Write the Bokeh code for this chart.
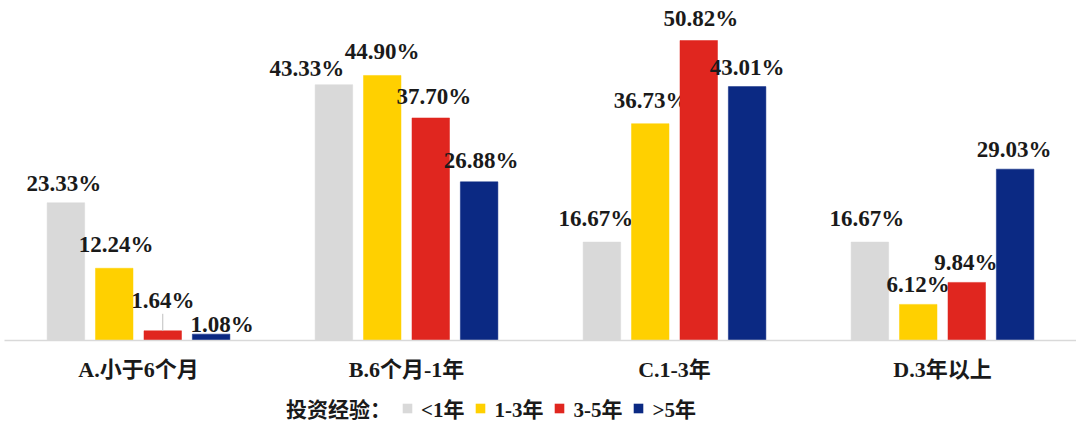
from bokeh.plotting import figure
from bokeh.layouts import column
from bokeh.models import ColumnDataSource, FactorRange, Range1d, Legend, LegendItem
from bokeh.transform import dodge
from bokeh.core.properties import value
from bokeh.embed import file_html
from bokeh.resources import INLINE

# ---- data ----
categories = ["A.小于6个月", "B.6个月-1年", "C.1-3年", "D.3年以上"]
series_names = ["<1年", "1-3年", "3-5年", ">5年"]
lt1 = [23.33, 43.33, 16.67, 16.67]
y1_3 = [12.24, 44.90, 36.73, 6.12]
y3_5 = [1.64, 37.70, 50.82, 9.84]
gt5 = [1.08, 26.88, 43.01, 29.03]
legend_title = "投资经验："

# ---- style ----
colors = ["#D9D9D9", "#FFD000", "#E0261F", "#0B2983"]
offsets = [-0.271, -0.0905, 0.0905, 0.271]
bar_width = 0.14
# label nudges (screen px) per series, per category
label_dx = [[-2, -27, -6, -3], [2, 0, 1, 0], [0, 3, 2, -1], [11, 2, 0, -1]]
label_dy = [[-19, -16, -24, -24], [-24, -24, -23, -20], [-30, -21, -22, -20], [-10, -21, -19, -20]]
FONT = "Liberation Serif, Noto Sans CJK SC"

W = 1076
H1 = 390
frame_h = 340
ymax = 57.6

p = figure(width=W, height=H1, x_range=FactorRange(*categories), y_range=Range1d(0, ymax),
           output_backend="svg", toolbar_location=None, y_axis_location=None,
           min_border_top=0, min_border_left=4, min_border_right=0, min_border_bottom=H1 - frame_h)
p.outline_line_color = None
p.xgrid.visible = False
p.ygrid.visible = False
p.background_fill_color = "white"

all_series = [lt1, y1_3, y3_5, gt5]
for i, vals in enumerate(all_series):
    src = ColumnDataSource(dict(
        cat=categories, val=vals,
        txt=["%.2f%%" % v for v in vals],
        dx=label_dx[i], dy=label_dy[i],
    ))
    p.vbar(x=dodge("cat", offsets[i], range=p.x_range), top="val", width=bar_width,
           source=src, fill_color=colors[i], line_color=colors[i], line_width=0.5)
    p.text(x=dodge("cat", offsets[i], range=p.x_range), y="val", text="txt", source=src,
           x_offset="dx", y_offset="dy", text_align="center", text_baseline="middle",
           text_font=value(FONT), text_font_style="bold", text_font_size="23px",
           text_color="#1a1a1a")

# leader line for the small 3-5年 label in category A
px_per_unit = frame_h / ymax
lead = ColumnDataSource(dict(cat=[categories[0]], y0=[y3_5[0]], y1=[y3_5[0] + 17 / px_per_unit]))
p.segment(x0=dodge("cat", offsets[2], range=p.x_range), x1=dodge("cat", offsets[2], range=p.x_range),
          y0="y0", y1="y1", source=lead, line_color="#BFBFBF", line_width=1)

# axis
ax = p.xaxis[0]
ax.axis_line_color = "#D9D9D9"
ax.axis_line_width = 1.5
ax.major_tick_line_color = None
ax.minor_tick_line_color = None
ax.major_tick_out = 0
ax.major_label_standoff = 16
ax.major_label_text_font = FONT
ax.major_label_text_font_style = "bold"
ax.major_label_text_font_size = "22px"
ax.major_label_text_color = "#1a1a1a"

# legend strip (swatch renderers are zero-size rects, so only their legend swatches show)
H2 = 39
p2 = figure(width=W, height=H2, x_range=Range1d(0, 1), y_range=Range1d(0, 1),
            output_backend="svg", toolbar_location=None, x_axis_location=None, y_axis_location=None,
            min_border=0)
p2.outline_line_color = None
p2.xgrid.visible = False
p2.ygrid.visible = False

dummy = p2.rect(x=[0.5], y=[0.5], width=0, height=0, fill_alpha=0, line_color=None)
items = [LegendItem(label=legend_title, renderers=[dummy])]
for name, c in zip(series_names, colors):
    r = p2.rect(x=[0.5], y=[0.5], width=0, height=0, fill_color=c, line_color=None)
    items.append(LegendItem(label=name, renderers=[r]))
legend = Legend(items=items, orientation="horizontal", location=(262, 6),
                glyph_width=12, glyph_height=12, label_standoff=8, spacing=10,
                padding=0, margin=0, border_line_alpha=0, background_fill_alpha=0,
                label_text_font=FONT, label_text_font_style="bold",
                label_text_font_size="21px", label_text_color="#1a1a1a")
p2.add_layout(legend)

open("out.html", "w").write(file_html(column(p, p2), INLINE))
